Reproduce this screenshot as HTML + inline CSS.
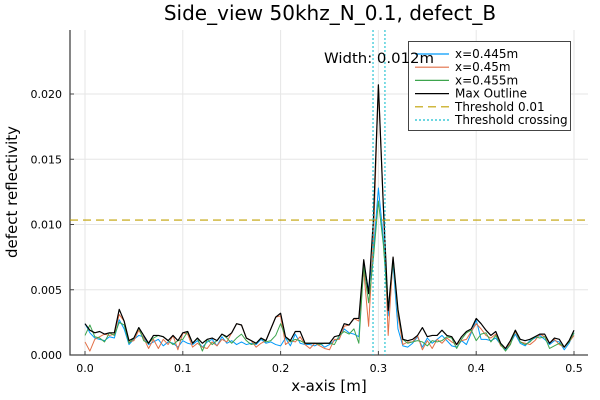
<!DOCTYPE html>
<html><head><meta charset="utf-8"><style>
body{margin:0;background:#fff;}
svg{display:block;font-family:"DejaVu Sans","Liberation Sans",sans-serif;}
</style></head><body>
<svg id="chart" width="600" height="400" viewBox="0 0 600 400"></svg>
<script>
const xs = [];
for (let i = 0; i <= 100; i++) xs.push(i * 0.005);
const maxOutline = [.0024,.0019,.0017,.0018,.0016,.0017,.0017,.0035,.0026,.0011,
.0013,.0021,.0015,.0009,.0015,.0015,.0014,.0011,.0015,.0011,
.0017,.0018,.0009,.0013,.0009,.0012,.0013,.0011,.0016,.0014,
.0017,.0024,.0023,.0013,.0011,.0009,.0013,.0011,.0020,.0029,
.0032,.0014,.0011,.0018,.0018,.0009,.0009,.0009,.0009,.0009,
.0009,.0014,.0015,.0024,.0023,.0028,.0028,.0073,.0047,.0105,
.0207,.0115,.0034,.0075,.0035,.0012,.0011,.0012,.0015,.0021,
.0014,.0015,.0015,.0019,.0015,.0014,.0008,.0014,.0018,.0020,
.0028,.0024,.0019,.0015,.0018,.0009,.0005,.0011,.0019,.0012,
.0011,.0012,.0014,.0016,.0016,.0009,.0013,.0012,.0006,.0011,.0019];
const s445 = [.0024,.0017,.0013,.0012,.0011,.0014,.0013,.0027,.0020,.0008,
.0012,.0015,.0014,.0008,.0010,.0012,.0007,.0010,.0009,.0006,
.0011,.0009,.0008,.0011,.0006,.0010,.0012,.0007,.0014,.0009,
.0011,.0008,.0010,.0008,.0009,.0008,.0012,.0009,.0010,.0008,
.0007,.0013,.0007,.0016,.0009,.0008,.0008,.0007,.0009,.0006,
.0008,.0011,.0013,.0020,.0017,.0016,.0014,.0070,.0050,.0080,
.0128,.0090,.0030,.0070,.0020,.0007,.0006,.0009,.0014,.0006,
.0013,.0009,.0012,.0015,.0011,.0007,.0006,.0011,.0008,.0017,
.0027,.0012,.0012,.0011,.0013,.0008,.0004,.0009,.0016,.0009,
.0007,.0011,.0013,.0015,.0012,.0008,.0011,.0010,.0004,.0009,.0017];
const s450 = [.0010,.0003,.0012,.0014,.0016,.0015,.0016,.0031,.0026,.0010,
.0011,.0019,.0013,.0005,.0012,.0005,.0012,.0008,.0015,.0004,
.0017,.0016,.0006,.0009,.0006,.0005,.0010,.0007,.0012,.0010,
.0017,.0024,.0023,.0013,.0011,.0006,.0009,.0011,.0020,.0029,
.0030,.0008,.0011,.0010,.0014,.0008,.0005,.0009,.0007,.0005,
.0004,.0012,.0012,.0022,.0023,.0028,.0026,.0065,.0022,.0090,
.0207,.0115,.0015,.0075,.0030,.0008,.0010,.0010,.0015,.0004,
.0011,.0005,.0012,.0009,.0013,.0010,.0008,.0011,.0012,.0018,
.0024,.0020,.0015,.0013,.0016,.0007,.0005,.0009,.0018,.0010,
.0009,.0008,.0011,.0016,.0014,.0009,.0012,.0008,.0006,.0010,.0015];
const s455 = [.0015,.0023,.0014,.0013,.0010,.0017,.0015,.0025,.0023,.0009,
.0013,.0021,.0011,.0009,.0013,.0015,.0014,.0011,.0008,.0011,
.0012,.0018,.0009,.0013,.0003,.0012,.0008,.0011,.0016,.0013,
.0009,.0013,.0016,.0011,.0008,.0009,.0013,.0010,.0011,.0015,
.0024,.0014,.0010,.0012,.0011,.0009,.0009,.0009,.0008,.0009,
.0009,.0008,.0015,.0018,.0016,.0020,.0009,.0068,.0040,.0075,
.0118,.0085,.0035,.0072,.0033,.0012,.0009,.0010,.0011,.0010,
.0007,.0011,.0010,.0011,.0014,.0013,.0005,.0012,.0017,.0019,
.0011,.0016,.0017,.0010,.0015,.0008,.0003,.0008,.0019,.0010,
.0008,.0010,.0014,.0013,.0014,.0005,.0007,.0009,.0006,.0010,.0017];
const threshold = 0.01034;
const crossings = [0.2945, 0.3067];
const xTicks = [0, 0.1, 0.2, 0.3, 0.4, 0.5];
const xTickLabels = ["0.0","0.1","0.2","0.3","0.4","0.5"];
const yTicks = [0, 0.005, 0.010, 0.015, 0.020];
const yTickLabels = ["0.000","0.005","0.010","0.015","0.020"];

const L=70, R=588, T=30, B=355;
const X = v => 85 + (v) * 978;
const Y = v => 355 - v * 13050;
const svg = document.getElementById('chart');
const NS = 'http://www.w3.org/2000/svg';
function mk(tag, attrs, parent){const e=document.createElementNS(NS,tag);for(const k in attrs)e.setAttribute(k,attrs[k]);(parent||svg).appendChild(e);return e;}

xTicks.forEach((t,i)=>{
  const g=mk('line',{x1:X(t),x2:X(t),y1:T,y2:B,stroke:'#e6e6e6','stroke-width':1});
  
  
  const tk=mk('line',{x1:X(t),x2:X(t),y1:B,y2:B-4,stroke:'#444'});
  
  
  const lb=mk('text',{x:X(t),y:B+17,'text-anchor':'middle','font-size':11,fill:'#000'});
  lb.textContent=xTickLabels[i];
  
  
});
yTicks.forEach((t,i)=>{
  const g=mk('line',{x1:L,x2:R,y1:Y(t),y2:Y(t),stroke:'#e6e6e6','stroke-width':1});
  
  
  const tk=mk('line',{x1:L,x2:L+4,y1:Y(t),y2:Y(t),stroke:'#444'});
  
  
  const lb=mk('text',{x:L-8,y:Y(t)+4,'text-anchor':'end','font-size':11,fill:'#000'});
  lb.textContent=yTickLabels[i];
  
  
});
const ax=mk('path',{d:`M${L},${T} V${B} H${R}`,stroke:'#444','stroke-width':1.3,fill:'none'});



function series(arr,color,name,w){
  const p=mk('polyline',{points:arr.map((v,i)=>X(xs[i])+','+Y(v)).join(' '),fill:'none',stroke:color,'stroke-width':w||1,'stroke-linejoin':'round'});
  
  
}
series(s445,'#009afa','series-x0445');
series(s450,'#e26f46','series-x045');
series(s455,'#3da44d','series-x0455');
series(maxOutline,'#000','max-outline',1.2);

const th=mk('line',{x1:L,x2:R,y1:Y(threshold),y2:Y(threshold),stroke:'#c0a000','stroke-width':1.1,'stroke-dasharray':'8 5'});


crossings.forEach(c=>{
  const l=mk('line',{x1:X(c),x2:X(c),y1:T,y2:B,stroke:'#17bfcf','stroke-width':1.1,'stroke-dasharray':'2 2'});
  
  
});

const lg=mk('g',{});


mk('rect',{x:408.5,y:41.5,width:162,height:89,fill:'#fff',stroke:'#444','stroke-width':1},lg);
const items=[['x=0.445m','#009afa',''],['x=0.45m','#e26f46',''],['x=0.455m','#3da44d',''],['Max Outline','#000',''],['Threshold 0.01','#c0a000','8 5'],['Threshold crossing','#17bfcf','2 2']];
items.forEach((it,i)=>{
  const y=54+i*13.2;
  const ln=mk('line',{x1:415,x2:449,y1:y,y2:y,stroke:it[1],'stroke-width':1.2,'stroke-dasharray':it[2]},lg);
  
  
  const t=mk('text',{x:455,y:y+4,'font-size':12,fill:'#000'},lg);
  t.textContent=it[0];
  
  
});

const wt=mk('text',{x:324,y:63,'font-size':14.5,fill:'#000',textLength:110,lengthAdjust:'spacingAndGlyphs'});
wt.textContent='Width: 0.012m';



const title=mk('text',{x:330,y:20,'text-anchor':'middle','font-size':20,fill:'#000'});
title.textContent='Side_view 50khz_N_0.1, defect_B';


const xl=mk('text',{x:329,y:391,'text-anchor':'middle','font-size':15,fill:'#000'});
xl.textContent='x-axis [m]';


const yl=mk('text',{x:0,y:0,'text-anchor':'middle','font-size':15,fill:'#000',transform:'translate(17,192) rotate(-90)'});
yl.textContent='defect reflectivity';


</script>
</body></html>
